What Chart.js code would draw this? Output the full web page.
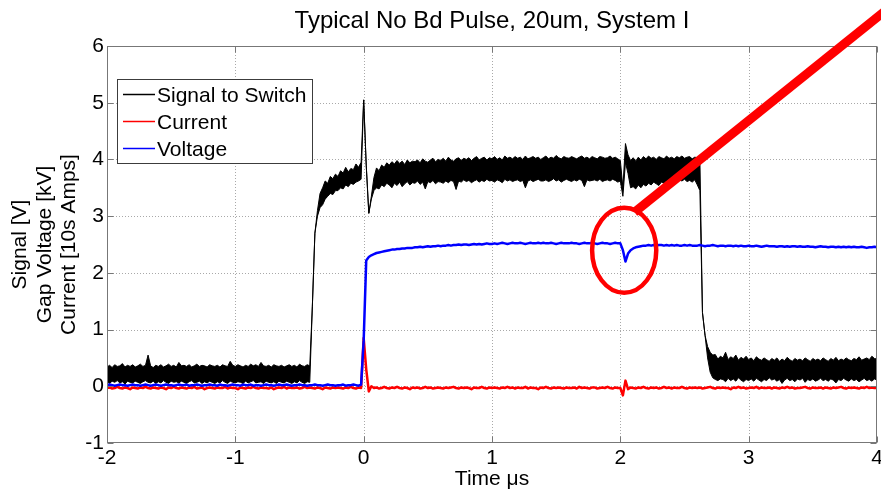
<!DOCTYPE html>
<html>
<head>
<meta charset="utf-8">
<title>Typical No Bd Pulse, 20um, System I</title>
<script src="https://cdn.jsdelivr.net/npm/chart.js@4.4.1/dist/chart.umd.min.js"></script>
<style>
    html, body { margin: 0; padding: 0; background: #fff; }
    #pulse-chart { display: block; }
</style>
</head>
<body>
<canvas id="pulse-chart" width="881" height="490"></canvas>
<script>
    "use strict";

    // scope record: one sample every 20 ns, first sample at -2 us
    var tStart = -2;
    var tStep = 0.02;

    var xTicks = [-2, -1, 0, 1, 2, 3, 4];
    var yTicks = [-1, 0, 1, 2, 3, 4, 5, 6];

    var seriesNames = ["Signal to Switch", "Current", "Voltage"];
    var seriesColors = ["#000000", "#ff0000", "#0000ff"];

    // Signal to Switch [V] is noisy, kept as the max/min of each 20 ns bin
    var signalHigh = [
        0.34, 0.37, 0.33, 0.38, 0.35, 0.36, 0.40, 0.34, 0.37, 0.35,
        0.38, 0.34, 0.36, 0.39, 0.35, 0.37, 0.55, 0.36, 0.33, 0.37,
        0.35, 0.38, 0.34, 0.36, 0.39, 0.35, 0.37, 0.34, 0.42, 0.36,
        0.37, 0.35, 0.38, 0.34, 0.36, 0.39, 0.35, 0.37, 0.36, 0.34,
        0.38, 0.36, 0.35, 0.37, 0.34, 0.38, 0.36, 0.35, 0.44, 0.37,
        0.35, 0.38, 0.36, 0.34, 0.37, 0.35, 0.39, 0.36, 0.38, 0.35,
        0.42, 0.36, 0.35, 0.37, 0.34, 0.38, 0.36, 0.35, 0.37, 0.34,
        0.36, 0.38, 0.35, 0.37, 0.34, 0.39, 0.36, 0.35, 0.38, 0.36,
        1.40, 2.70, 3.10, 3.40, 3.50, 3.62, 3.58, 3.70, 3.66, 3.74,
        3.70, 3.80, 3.76, 3.86, 3.78, 3.84, 3.82, 3.92, 3.86, 3.95,
        5.05, 3.90, 3.05, 3.35, 3.68, 3.85, 3.80, 3.90, 3.86, 3.94,
        3.90, 3.96, 3.92, 3.98, 3.93, 3.97, 3.91, 3.99, 3.94, 3.97,
        3.96, 3.99, 3.94, 4.01, 3.97, 3.95, 3.99, 4.02, 3.96, 4.00,
        3.98, 4.02, 3.97, 4.04, 3.99, 3.97, 4.01, 4.03, 3.98, 4.02,
        4.00, 4.03, 3.98, 4.02, 4.05, 3.99, 4.02, 4.04, 3.99, 4.03,
        4.01, 4.05, 4.00, 4.03, 3.99, 4.06, 4.02, 4.04, 4.01, 4.05,
        4.02, 4.04, 4.00, 4.06, 4.01, 4.03, 4.05, 4.02, 4.04, 4.00,
        4.03, 4.06, 4.01, 4.04, 4.02, 4.07, 4.03, 4.01, 4.05, 4.03,
        4.02, 4.05, 4.03, 4.01, 4.04, 4.06, 4.02, 4.04, 4.01, 4.05,
        4.03, 4.01, 4.05, 4.04, 4.02, 4.03, 4.06, 4.02, 4.04, 4.01,
        3.98, 3.50, 4.28, 4.08, 3.98, 4.03, 3.97, 4.04, 3.99, 4.05,
        4.01, 4.06, 4.02, 4.04, 4.00, 4.05, 4.03, 4.01, 4.06, 4.02,
        4.04, 4.01, 4.05, 4.03, 4.06, 4.02, 4.04, 4.05, 4.01, 4.04,
        4.03, 4.00, 1.30, 0.90, 0.70, 0.60, 0.55, 0.56, 0.48, 0.53,
        0.50, 0.60, 0.47, 0.52, 0.49, 0.55, 0.46, 0.51, 0.48, 0.53,
        0.47, 0.50, 0.45, 0.52, 0.48, 0.46, 0.50, 0.47, 0.44, 0.49,
        0.46, 0.50, 0.44, 0.48, 0.45, 0.51, 0.47, 0.44, 0.49, 0.46,
        0.48, 0.45, 0.50, 0.47, 0.44, 0.49, 0.46, 0.48, 0.45, 0.50,
        0.47, 0.44, 0.49, 0.46, 0.51, 0.45, 0.48, 0.46, 0.50, 0.47,
        0.45, 0.49, 0.47, 0.52, 0.46, 0.48, 0.50, 0.47, 0.53, 0.49,
        0.48
    ];

    var signalLow = [
        0.08, 0.05, 0.09, 0.07, 0.10, 0.06, 0.08, 0.04, 0.09, 0.07,
        0.06, 0.09, 0.07, 0.05, 0.08, 0.10, 0.07, 0.06, 0.09, 0.05,
        0.08, 0.06, 0.10, 0.07, 0.05, 0.09, 0.07, 0.08, 0.06, 0.09,
        0.07, 0.05, 0.08, 0.10, 0.06, 0.07, 0.09, 0.05, 0.08, 0.06,
        0.09, 0.07, 0.05, 0.08, 0.06, 0.10, 0.07, 0.05, 0.09, 0.07,
        0.06, 0.08, 0.07, 0.05, 0.09, 0.06, 0.08, 0.10, 0.06, 0.07,
        0.08, 0.05, 0.09, 0.07, 0.06, 0.08, 0.05, 0.09, 0.07, 0.06,
        0.09, 0.07, 0.05, 0.08, 0.06, 0.10, 0.07, 0.05, 0.08, 0.07,
        1.40, 2.70, 3.00, 3.15, 3.20, 3.30, 3.35, 3.40, 3.38, 3.45,
        3.45, 3.50, 3.48, 3.55, 3.52, 3.58, 3.56, 3.60, 3.62, 3.65,
        5.05, 3.90, 3.05, 3.30, 3.45, 3.50, 3.48, 3.55, 3.52, 3.58,
        3.55, 3.50, 3.58, 3.54, 3.60, 3.52, 3.57, 3.61, 3.55, 3.59,
        3.58, 3.62, 3.56, 3.60, 3.48, 3.61, 3.59, 3.63, 3.57, 3.61,
        3.60, 3.58, 3.62, 3.59, 3.63, 3.61, 3.47, 3.62, 3.60, 3.64,
        3.61, 3.63, 3.59, 3.62, 3.64, 3.60, 3.63, 3.61, 3.65, 3.62,
        3.63, 3.60, 3.64, 3.62, 3.59, 3.65, 3.62, 3.64, 3.61, 3.63,
        3.64, 3.61, 3.63, 3.50, 3.62, 3.64, 3.61, 3.63, 3.65, 3.62,
        3.62, 3.64, 3.61, 3.63, 3.66, 3.62, 3.64, 3.60, 3.63, 3.65,
        3.63, 3.61, 3.64, 3.62, 3.65, 3.63, 3.52, 3.64, 3.62, 3.63,
        3.64, 3.62, 3.65, 3.61, 3.63, 3.64, 3.62, 3.65, 3.63, 3.60,
        3.62, 3.35, 3.95, 3.75, 3.50, 3.52, 3.48, 3.55, 3.50, 3.56,
        3.53, 3.58, 3.55, 3.60, 3.57, 3.54, 3.60, 3.58, 3.62, 3.59,
        3.61, 3.63, 3.60, 3.64, 3.62, 3.65, 3.61, 3.63, 3.60, 3.64,
        3.55, 3.45, 1.30, 0.90, 0.50, 0.25, 0.15, 0.12, 0.10, 0.13,
        0.12, 0.08, 0.14, 0.10, 0.13, 0.09, 0.15, 0.11, 0.08, 0.12,
        0.10, 0.13, 0.09, 0.14, 0.11, 0.08, 0.12, 0.10, 0.15, 0.11,
        0.13, 0.09, 0.12, 0.05, 0.11, 0.14, 0.10, 0.12, 0.08, 0.13,
        0.11, 0.14, 0.07, 0.12, 0.10, 0.13, 0.09, 0.11, 0.14, 0.10,
        0.12, 0.09, 0.13, 0.11, 0.06, 0.12, 0.10, 0.14, 0.11, 0.09,
        0.13, 0.10, 0.12, 0.08, 0.11, 0.14, 0.10, 0.12, 0.09, 0.13,
        0.11
    ];

    // Current [10s of A]
    var current = [
        -0.03, -0.02, -0.04, -0.03, -0.01, -0.03, -0.04, -0.02, -0.03, -0.05,
        -0.02, -0.03, -0.04, -0.02, -0.03, -0.01, -0.03, -0.04, -0.02, -0.03,
        -0.04, -0.02, -0.03, -0.05, -0.02, -0.03, -0.01, -0.03, -0.04, -0.02,
        -0.03, -0.04, -0.02, -0.03, -0.01, -0.04, -0.03, -0.02, -0.05, -0.03,
        -0.02, -0.03, -0.04, -0.02, -0.03, -0.03, -0.01, -0.04, -0.02, -0.03,
        -0.03, -0.05, -0.02, -0.03, -0.04, -0.02, -0.03, -0.01, -0.03, -0.04,
        -0.02, -0.03, -0.03, -0.04, -0.02, -0.05, -0.03, -0.02, -0.03, -0.01,
        -0.04, -0.02, -0.03, -0.03, -0.02, -0.04, -0.03, -0.01, -0.03, -0.02,
        -0.03, -0.04, -0.02, -0.03, -0.05, -0.02, -0.03, -0.04, -0.02, -0.03,
        -0.02, -0.03, -0.04, -0.02, -0.03, -0.01, -0.03, -0.04, -0.02, -0.03,
        0.85, 0.30, -0.09, 0.00, -0.03, -0.02, -0.04, -0.03, -0.01, -0.03,
        -0.04, -0.02, -0.03, -0.01, -0.03, -0.04, -0.02, -0.03, -0.05, -0.02,
        -0.03, -0.02, -0.04, -0.03, -0.01, -0.03, -0.02, -0.04, -0.03, -0.02,
        -0.03, -0.04, -0.02, -0.03, -0.02, -0.01, -0.03, -0.04, -0.02, -0.03,
        -0.02, -0.03, -0.05, -0.02, -0.03, -0.03, -0.01, -0.03, -0.04, -0.02,
        -0.03, -0.02, -0.03, -0.04, -0.02, -0.03, -0.01, -0.03, -0.02, -0.04,
        -0.02, -0.03, -0.03, -0.01, -0.04, -0.02, -0.03, -0.03, -0.05, -0.02,
        -0.03, -0.01, -0.03, -0.04, -0.02, -0.03, -0.02, -0.03, -0.04, -0.02,
        -0.03, -0.03, -0.02, -0.04, -0.01, -0.03, -0.02, -0.03, -0.04, -0.02,
        -0.02, -0.04, -0.03, -0.02, -0.03, -0.01, -0.03, -0.04, -0.02, -0.03,
        -0.03, -0.16, 0.10, -0.05, -0.02, -0.03, -0.04, -0.02, -0.03, -0.01,
        -0.03, -0.04, -0.02, -0.03, -0.02, -0.04, -0.03, -0.01, -0.03, -0.02,
        -0.04, -0.02, -0.03, -0.03, -0.01, -0.03, -0.04, -0.02, -0.03, -0.02,
        -0.03, -0.02, -0.04, -0.03, -0.02, -0.01, -0.03, -0.04, -0.02, -0.03,
        -0.02, -0.03, -0.03, -0.05, -0.02, -0.03, -0.01, -0.03, -0.02, -0.04,
        -0.03, -0.02, -0.03, -0.01, -0.04, -0.02, -0.03, -0.03, -0.02, -0.04,
        -0.02, -0.03, -0.04, -0.02, -0.03, -0.01, -0.03, -0.02, -0.04, -0.03,
        -0.03, -0.02, -0.01, -0.03, -0.04, -0.02, -0.03, -0.03, -0.02, -0.04,
        -0.02, -0.03, -0.04, -0.02, -0.03, -0.02, -0.01, -0.03, -0.04, -0.02,
        -0.03, -0.02, -0.03, -0.04, -0.02, -0.03, -0.01, -0.03, -0.02, -0.03,
        -0.03
    ];

    // Gap voltage [kV]
    var voltage = [
        0.02, 0.03, 0.02, 0.01, 0.02, 0.03, 0.02, 0.02, 0.01, 0.02,
        0.03, 0.02, 0.02, 0.01, 0.02, 0.03, 0.02, 0.01, 0.02, 0.03,
        0.02, 0.01, 0.02, 0.03, 0.02, 0.02, 0.01, 0.02, 0.03, 0.02,
        0.02, 0.03, 0.01, 0.02, 0.02, 0.03, 0.02, 0.01, 0.02, 0.02,
        0.03, 0.02, 0.02, 0.01, 0.03, 0.02, 0.02, 0.01, 0.02, 0.03,
        0.02, 0.02, 0.01, 0.03, 0.02, 0.02, 0.03, 0.01, 0.02, 0.02,
        0.01, 0.02, 0.03, 0.02, 0.02, 0.01, 0.02, 0.03, 0.02, 0.02,
        0.03, 0.02, 0.01, 0.02, 0.02, 0.03, 0.02, 0.02, 0.01, 0.02,
        0.02, 0.03, 0.02, 0.02, 0.01, 0.02, 0.03, 0.02, 0.02, 0.01,
        0.02, 0.02, 0.03, 0.01, 0.02, 0.02, 0.03, 0.02, 0.01, 0.03,
        0.80, 2.22, 2.28, 2.31, 2.33, 2.35, 2.36, 2.37, 2.38, 2.39,
        2.40, 2.41, 2.41, 2.42, 2.42, 2.43, 2.43, 2.44, 2.44, 2.44,
        2.45, 2.45, 2.46, 2.45, 2.46, 2.47, 2.46, 2.47, 2.47, 2.48,
        2.47, 2.48, 2.48, 2.49, 2.48, 2.49, 2.49, 2.50, 2.49, 2.50,
        2.50, 2.49, 2.50, 2.51, 2.50, 2.51, 2.50, 2.51, 2.52, 2.51,
        2.51, 2.52, 2.51, 2.52, 2.53, 2.52, 2.51, 2.52, 2.53, 2.52,
        2.52, 2.53, 2.52, 2.51, 2.52, 2.53, 2.52, 2.52, 2.53, 2.52,
        2.53, 2.52, 2.52, 2.53, 2.52, 2.51, 2.52, 2.53, 2.52, 2.52,
        2.52, 2.53, 2.52, 2.52, 2.51, 2.52, 2.53, 2.52, 2.52, 2.53,
        2.52, 2.51, 2.52, 2.53, 2.52, 2.52, 2.51, 2.52, 2.53, 2.52,
        2.52, 2.40, 2.20, 2.34, 2.40, 2.43, 2.45, 2.46, 2.47, 2.48,
        2.48, 2.49, 2.48, 2.49, 2.48, 2.49, 2.49, 2.48, 2.49, 2.48,
        2.49, 2.48, 2.49, 2.48, 2.48, 2.49, 2.48, 2.49, 2.48, 2.48,
        2.48, 2.49, 2.48, 2.47, 2.48, 2.48, 2.49, 2.48, 2.47, 2.48,
        2.48, 2.47, 2.48, 2.48, 2.47, 2.48, 2.47, 2.48, 2.47, 2.47,
        2.48, 2.47, 2.47, 2.48, 2.47, 2.46, 2.47, 2.48, 2.47, 2.47,
        2.47, 2.46, 2.47, 2.47, 2.46, 2.47, 2.46, 2.47, 2.47, 2.46,
        2.47, 2.46, 2.46, 2.47, 2.46, 2.46, 2.45, 2.46, 2.47, 2.46,
        2.46, 2.45, 2.46, 2.46, 2.45, 2.46, 2.45, 2.46, 2.45, 2.46,
        2.45, 2.46, 2.45, 2.45, 2.46, 2.45, 2.44, 2.45, 2.45, 2.46,
        2.45
    ];

    var timeUs = signalHigh.map(function (v, i) {
        return Math.round((tStart + i * tStep) * 100) / 100;
    });

    var FONT = "'Liberation Sans', Arial, Helvetica, sans-serif";
    var GRID_COLOR = "#a9a9a9";
    var AXIS_COLOR = "#777777";

    function toPoints(values) {
        return values.map(function (v, i) {
            return { x: timeUs[i], y: v };
        });
    }

    function tickObjects(list) {
        return list.map(function (v) { return { value: v }; });
    }

    // dotted grid underneath the traces
    var gridLines = {
        id: "gridLines",
        beforeDatasetsDraw: function (chart) {
            var ctx = chart.ctx;
            var area = chart.chartArea;
            var xs = chart.scales.x;
            var ys = chart.scales.y;

            ctx.save();
            ctx.strokeStyle = GRID_COLOR;
            ctx.lineWidth = 1;
            ctx.setLineDash([1, 2]);
            xTicks.slice(1, -1).forEach(function (v) {
                var px = Math.round(xs.getPixelForValue(v)) + 0.5;
                ctx.beginPath();
                ctx.moveTo(px, area.top);
                ctx.lineTo(px, area.bottom);
                ctx.stroke();
            });
            yTicks.slice(1, -1).forEach(function (v) {
                var py = Math.round(ys.getPixelForValue(v)) + 0.5;
                ctx.beginPath();
                ctx.moveTo(area.left, py);
                ctx.lineTo(area.right, py);
                ctx.stroke();
            });
            ctx.restore();
        }
    };

    // axes box with inward tick marks, legend, callout and text
    var decorations = {
        id: "decorations",
        afterDatasetsDraw: function (chart) {
            var ctx = chart.ctx;
            var area = chart.chartArea;
            var xs = chart.scales.x;
            var ys = chart.scales.y;
            var l = area.left + 0.5, r = area.right - 0.5;
            var t = area.top + 0.5, b = area.bottom - 0.5;
            var tickLen = 6;

            ctx.save();
            ctx.strokeStyle = AXIS_COLOR;
            ctx.lineWidth = 1;
            ctx.strokeRect(l, t, r - l, b - t);
            ctx.beginPath();
            xTicks.forEach(function (v) {
                var px = Math.round(xs.getPixelForValue(v)) + 0.5;
                ctx.moveTo(px, b); ctx.lineTo(px, b - tickLen);
                ctx.moveTo(px, t); ctx.lineTo(px, t + tickLen);
            });
            yTicks.forEach(function (v) {
                var py = Math.round(ys.getPixelForValue(v)) + 0.5;
                ctx.moveTo(l, py); ctx.lineTo(l + tickLen, py);
                ctx.moveTo(r, py); ctx.lineTo(r - tickLen, py);
            });
            ctx.stroke();

            // legend, top-left inside the axes
            var lx = 117.5, ly = 79.5, lw = 195, lh = 84;
            ctx.fillStyle = "#ffffff";
            ctx.fillRect(lx, ly, lw, lh);
            ctx.strokeStyle = "#3c3c3c";
            ctx.strokeRect(lx, ly, lw, lh);
            ctx.font = "21px " + FONT;
            ctx.textBaseline = "alphabetic";
            ctx.textAlign = "left";
            seriesNames.forEach(function (name, i) {
                var rowY = 94.5 + i * 27;
                ctx.strokeStyle = seriesColors[i];
                ctx.lineWidth = 1.5;
                ctx.beginPath();
                ctx.moveTo(123, rowY);
                ctx.lineTo(155, rowY);
                ctx.stroke();
                ctx.fillStyle = "#000";
                ctx.fillText(name, 157, rowY + 7.5);
            });

            // red callout around the dip at 2 us
            ctx.strokeStyle = "#ff0000";
            ctx.lineWidth = 4.5;
            var cx = xs.getPixelForValue(2.03);
            var cy = ys.getPixelForValue(2.40);
            var rx = xs.getPixelForValue(2.03 + 0.25) - cx;
            var ry = cy - ys.getPixelForValue(2.40 + 0.75);
            ctx.beginPath();
            ctx.ellipse(cx, cy, rx, ry, 0, 0, Math.PI * 2);
            ctx.stroke();

            ctx.lineWidth = 9;
            ctx.lineCap = "butt";
            ctx.beginPath();
            ctx.moveTo(xs.getPixelForValue(2.11), ys.getPixelForValue(3.07));
            ctx.lineTo(xs.getPixelForValue(4.18), ys.getPixelForValue(6.83));
            ctx.stroke();
            ctx.restore();
        },
        afterDraw: function (chart) {
            var ctx = chart.ctx;
            var area = chart.chartArea;
            var midX = (area.left + area.right) / 2;
            var midY = (area.top + area.bottom) / 2;

            ctx.save();
            ctx.fillStyle = "#000";
            ctx.textAlign = "center";
            ctx.textBaseline = "alphabetic";

            ctx.font = "24px " + FONT;
            ctx.fillText("Typical No Bd Pulse, 20um, System I", midX, 28);

            ctx.font = "21px " + FONT;
            ctx.fillText("Time \u03bcs", midX, 485);

            ctx.translate(0, midY);
            ctx.rotate(-Math.PI / 2);
            ctx.fillText("Signal [V]", 0, 26);
            ctx.fillText("Gap Voltage [kV]", 0, 50.5);
            ctx.fillText("Current [10s Amps]", 0, 75);
            ctx.restore();
        }
    };

    var ctx = document.getElementById("pulse-chart").getContext("2d");
    new Chart(ctx, {
        type: "line",
        data: {
            datasets: [
                {
                    label: seriesNames[0],
                    data: toPoints(signalHigh),
                    borderColor: seriesColors[0],
                    backgroundColor: seriesColors[0],
                    borderWidth: 1,
                    fill: "+1",
                    order: 4
                },
                {
                    label: seriesNames[0] + " (min)",
                    data: toPoints(signalLow),
                    borderColor: seriesColors[0],
                    borderWidth: 1,
                    order: 3
                },
                {
                    label: seriesNames[1],
                    data: toPoints(current),
                    borderColor: seriesColors[1],
                    borderWidth: 2.5,
                    order: 2
                },
                {
                    label: seriesNames[2],
                    data: toPoints(voltage),
                    borderColor: seriesColors[2],
                    borderWidth: 2.5,
                    order: 1
                }
            ]
        },
        options: {
            responsive: false,
            animation: false,
            devicePixelRatio: 1,
            layout: { padding: { top: 46, right: 4, left: 0, bottom: 0 } },
            elements: {
                point: { radius: 0 },
                line: { tension: 0, borderJoinStyle: "round" }
            },
            plugins: {
                legend: { display: false },
                title: { display: false },
                tooltip: { enabled: false }
            },
            scales: {
                x: {
                    type: "linear",
                    min: -2,
                    max: 4,
                    afterBuildTicks: function (scale) { scale.ticks = tickObjects(xTicks); },
                    afterFit: function (scale) {
                        scale.height = 47;
                        scale.paddingLeft = 0;
                        scale.paddingRight = 0;
                    },
                    grid: { display: false, drawTicks: false },
                    border: { display: false },
                    ticks: {
                        color: "#000",
                        font: { family: FONT, size: 21 },
                        padding: 3,
                        maxRotation: 0,
                        autoSkip: false
                    }
                },
                y: {
                    type: "linear",
                    min: -1,
                    max: 6,
                    afterBuildTicks: function (scale) { scale.ticks = tickObjects(yTicks); },
                    afterFit: function (scale) { scale.width = 107; },
                    grid: { display: false, drawTicks: false },
                    border: { display: false },
                    ticks: {
                        color: "#000",
                        font: { family: FONT, size: 21 },
                        padding: 3,
                        autoSkip: false
                    }
                }
            }
        },
        plugins: [gridLines, decorations]
    });
</script>
</body>
</html>
